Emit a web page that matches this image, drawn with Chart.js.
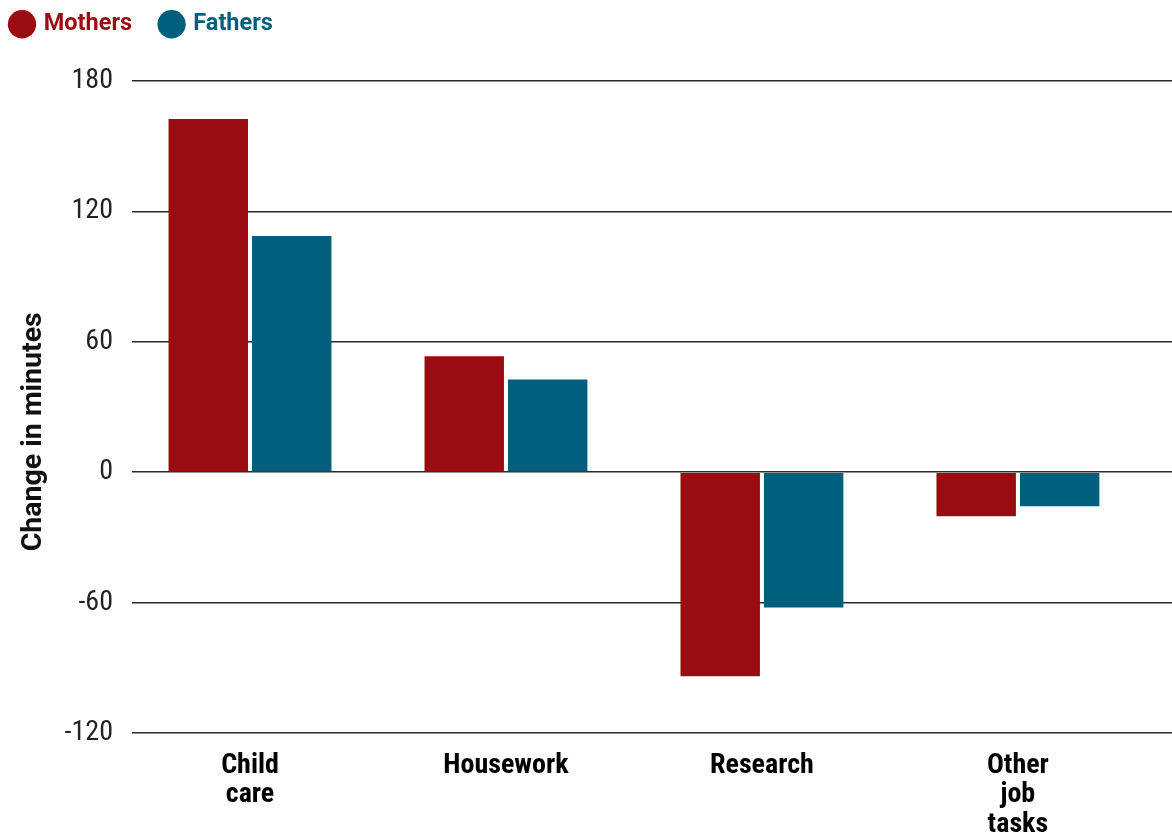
<!DOCTYPE html>
<html>
<head>
<meta charset="utf-8">
<script src="https://cdn.jsdelivr.net/npm/chart.js@4"></script>
<style>
  html, body { margin: 0; padding: 0; background: #ffffff; }
  #wrap { width: 1172px; height: 835px; position: relative; }
</style>
</head>
<body>
<div id="wrap"><canvas id="c"></canvas></div>
<script>
// ---- data ----
const categories = [["Child", "care"], ["Housework"], ["Research"], ["Other", "job", "tasks"]];
const categoryIndex = [0, 1, 2, 3];
const mothers = [162.5, 53.4, -93.9, -20.3];
const fathers = [108.7, 42.7, -62.2, -15.7];
const seriesNames = ["Mothers", "Fathers"];
const yTicks = [-120, -60, 0, 60, 120, 180];

// ---- styles ----
const RED = '#9B0C12';
const BLUE = '#005F7D';
const NARROW = "'Liberation Sans Narrow', 'Roboto Condensed', 'DejaVu Sans Condensed', Roboto, sans-serif";
const ROBOTO = "Roboto, 'Liberation Sans', sans-serif";

const PAD_L = -17.5, PAD_T = -17;
const AREA_LEFT = 132, AREA_TOP = 81, AREA_BOTTOM = 733, H = 835;

const legendSize = {
  id: 'legendSize',
  beforeInit(chart) {
    const lg = chart.legend;
    if (!lg) return;
    const orig = lg.fit;
    lg.fit = function () { orig.call(this); this.height = AREA_TOP - PAD_T; };
  }
};

const toPoints = arr => arr.map((v, i) => ({ x: categoryIndex[i], y: v }));

new Chart(document.getElementById('c'), {
  type: 'bar',
  data: {
    datasets: [
      { label: seriesNames[0], data: toPoints(mothers), backgroundColor: RED },
      { label: seriesNames[1], data: toPoints(fathers), backgroundColor: BLUE }
    ]
  },
  plugins: [legendSize],
  options: {
    responsive: true,
    maintainAspectRatio: false,
    animation: false,
    categoryPercentage: 0.652,
    barPercentage: 0.952,
    layout: { padding: { left: PAD_L, top: PAD_T, right: 0, bottom: 0 } },
    plugins: {
      tooltip: { enabled: false },
      legend: {
        position: 'top',
        align: 'start',
        labels: {
          usePointStyle: true,
          pointStyle: 'circle',
          boxWidth: 20,
          boxHeight: 20,
          padding: 29.5,
          font: { family: ROBOTO, size: 23.5, weight: 'bold' },
          generateLabels: chart => chart.data.datasets.map((ds, i) => ({
            text: ds.label,
            fillStyle: ds.backgroundColor,
            strokeStyle: ds.backgroundColor,
            fontColor: ds.backgroundColor,
            lineWidth: 0,
            pointStyle: 'circle',
            hidden: false,
            datasetIndex: i
          }))
        }
      }
    },
    scales: {
      x: {
        type: 'linear',
        offset: false,
        min: -0.461,
        max: 3.602,
        afterBuildTicks: s => { s.ticks = categoryIndex.map(v => ({ value: v })); },
        afterFit: s => { s.height = H - AREA_BOTTOM; },
        grid: { display: false, drawTicks: false },
        border: { display: false },
        ticks: {
          autoSkip: false,
          maxRotation: 0,
          padding: 18,
          color: '#000000',
          font: { family: NARROW, size: 28, weight: 'bold', lineHeight: 1.05 },
          callback: v => categories[v]
        }
      },
      y: {
        min: yTicks[0],
        max: yTicks[yTicks.length - 1],
        afterBuildTicks: s => { s.ticks = yTicks.map(v => ({ value: v })); },
        afterFit: s => { s.width = AREA_LEFT - PAD_L; },
        border: { display: false },
        grid: { color: '#2a2a2a', lineWidth: 1.6, drawTicks: false },
        ticks: {
          padding: 19,
          color: '#222222',
          font: { family: NARROW, size: 28 }
        },
        title: {
          display: true,
          text: 'Change in minutes\u00a0\u00a0\u00a0\u00a0\u00a0\u00a0\u00a0',
          color: '#111111',
          padding: { top: 34, bottom: 0 },
          font: { family: ROBOTO, size: 28.5, weight: 'bold' }
        }
      }
    }
  }
});
</script>
</body>
</html>
